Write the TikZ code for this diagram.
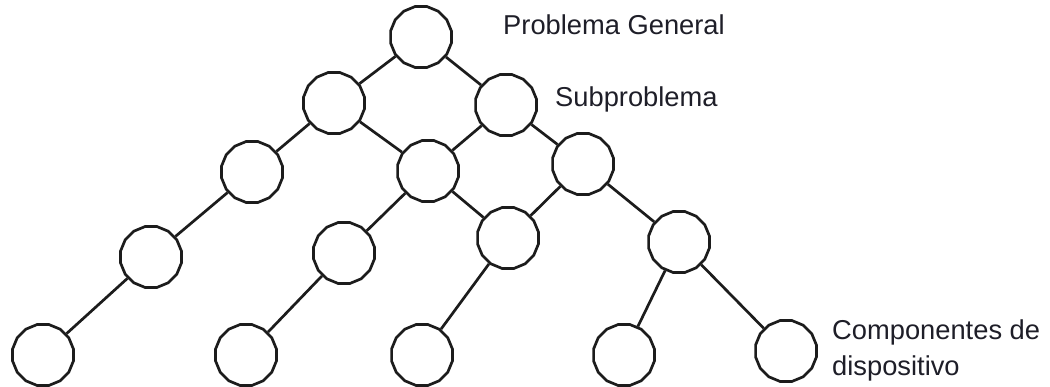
\documentclass[tikz,border=0pt]{standalone}
\usepackage{fontspec}
\setmainfont{Liberation Sans}
\usetikzlibrary{shapes.geometric}
\definecolor{ink}{HTML}{1C1C1C}
\definecolor{txt}{HTML}{1E1E28}
\begin{document}
\begin{tikzpicture}[x=1pt,y=-1pt,
  nd/.style={draw=ink,line width=2.7pt,fill=white,regular polygon,regular polygon sides=16,minimum size=62pt,inner sep=0pt},
  ed/.style={draw=ink,line width=2.7pt},
  lbl/.style={anchor=base west,inner sep=0pt,text=txt,font=\fontsize{27.3}{35}\selectfont}]
\useasboundingbox (0,0) rectangle (1050,387);
\node[nd] (r) at (421,37) {};
\node[nd] (a1) at (334,103) {};
\node[nd] (a2) at (506,105) {};
\node[nd] (b1) at (252,172) {};
\node[nd] (b2) at (428,171) {};
\node[nd] (b3) at (583,164) {};
\node[nd] (c1) at (151,257) {};
\node[nd] (c2) at (344,253) {};
\node[nd] (c3) at (508,238) {};
\node[nd] (c4) at (679,242) {};
\node[nd] (d1) at (43,355) {};
\node[nd] (d2) at (246,355) {};
\node[nd] (d3) at (422,355) {};
\node[nd] (d4) at (624,355) {};
\node[nd] (d5) at (786,351) {};
\draw[ed] (r) -- (a1);
\draw[ed] (r) -- (a2);
\draw[ed] (a1) -- (b1);
\draw[ed] (a1) -- (b2);
\draw[ed] (a2) -- (b2);
\draw[ed] (a2) -- (b3);
\draw[ed] (b1) -- (c1);
\draw[ed] (b2) -- (c2);
\draw[ed] (b2) -- (c3);
\draw[ed] (b3) -- (c3);
\draw[ed] (b3) -- (c4);
\draw[ed] (c1) -- (d1);
\draw[ed] (c2) -- (d2);
\draw[ed] (c3) -- (d3);
\draw[ed] (c4) -- (d4);
\draw[ed] (c4) -- (d5);
\node[lbl] (t1) at (503,35) {Problema General};
\node[lbl] (t2) at (555,107) {Subproblema};
\node[lbl] (t3) at (832,340) {Componentes de};
\node[lbl] (t4) at (832,375) {dispositivo};
\end{tikzpicture}
\end{document}
